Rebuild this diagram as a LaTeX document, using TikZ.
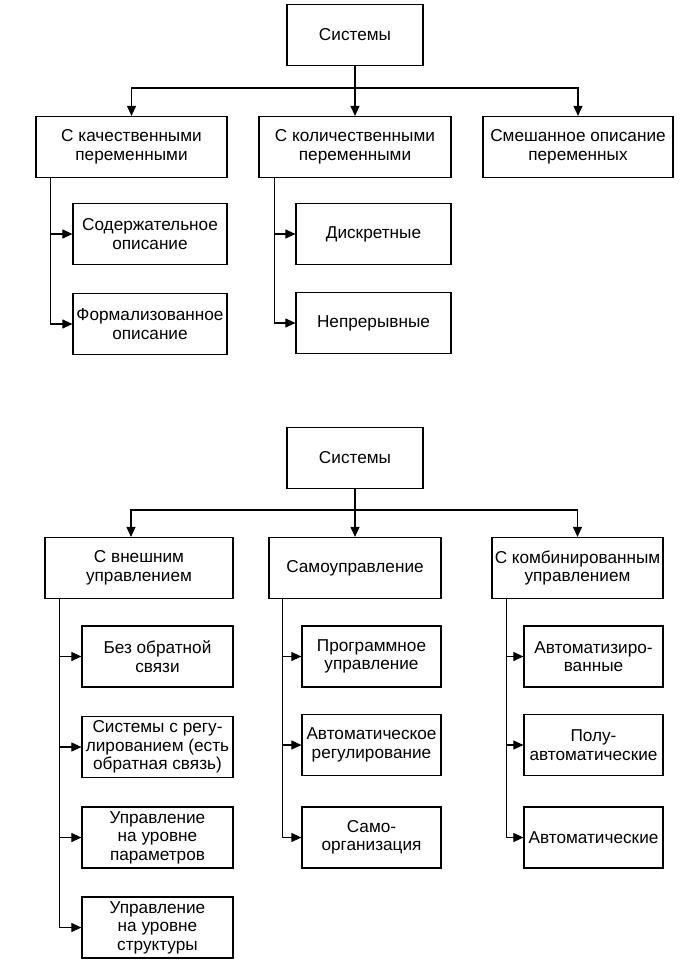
\documentclass[tikz,border=0pt]{standalone}
\usepackage{fontspec}
\setmainfont{Liberation Sans}
\usepackage{tikz}
\usetikzlibrary{arrows.meta}

\begin{document}
\begin{tikzpicture}[x=1pt,y=-1pt,
    box/.style={draw, line width=1.2pt, align=center, inner sep=1pt,
        font=\fontsize{17.2}{18.5}\selectfont, minimum height=61pt},
    arr/.style={line width=1.1pt, -{Triangle[length=10pt,width=9pt]}}]
            \useasboundingbox (0,0) rectangle (691,965);

            \node[box, minimum width=136pt] (sys1) at (355,35) {Системы};
            \node[box, minimum width=191pt] (qual) at (131.5,147) {С качественными\\переменными};
            \node[box, minimum width=192pt] (quant) at (355,147) {С количественными\\переменными};
            \node[box, minimum width=190pt] (mixed) at (578,147) {Смешанное описание\\переменных};
            \node[box, minimum width=154pt] (meaning) at (150,234) {Содержательное\\описание};
            \node[box, minimum width=154pt] (formal) at (150,324) {Формализованное\\описание};
            \node[box, minimum width=155pt] (discr) at (373.5,234) {Дискретные};
            \node[box, minimum width=155pt] (contin) at (373.5,323) {Непрерывные};
            \coordinate (bus1) at (0,88);

            \draw[arr] (sys1.south) -- (sys1.south |- bus1) -| (qual.north);
            \draw[arr] (sys1.south) -- (quant.north);
            \draw[arr] (sys1.south) -- (sys1.south |- bus1) -| (mixed.north);
            \draw[arr] ([xshift=15pt]qual.south west) |- (meaning.west);
            \draw[arr] ([xshift=15pt]qual.south west) |- (formal.west);
            \draw[arr] ([xshift=16pt]quant.south west) |- (discr.west);
            \draw[arr] ([xshift=16pt]quant.south west) |- (contin.west);

            \node[box, minimum width=136pt] (sys2) at (355,458) {Системы};
            \node[box, minimum width=188pt] (ext) at (139,568) {С внешним\\управлением};
            \node[box, minimum width=172pt] (self) at (355,568) {Самоуправление};
            \node[box, minimum width=171pt] (comb) at (577.5,568) {С комбинированным\\управлением};
            \node[box, minimum width=151pt] (nofb) at (157.5,656.5) {Без обратной\\связи};
            \node[box, minimum width=151pt] (reg) at (157.5,747) {Системы с регу-\\лированием (есть\\обратная связь)};
            \node[box, minimum width=151pt] (param) at (157.5,837.5) {Управление\\на уровне\\параметров};
            \node[box, minimum width=151pt] (struct) at (157.5,927.5) {Управление\\на уровне\\структуры};
            \node[box, minimum width=139pt] (prog) at (371.5,656.5) {Программное\\управление};
            \node[box, minimum width=139pt] (autoreg) at (371.5,745) {Автоматическое\\регулирование};
            \node[box, minimum width=139pt] (selforg) at (371.5,837.5) {Само-\\организация};
            \node[box, minimum width=139pt] (automd) at (593.5,656.5) {Автоматизиро-\\ванные};
            \node[box, minimum width=139pt] (semi) at (593.5,745) {Полу-\\автоматические};
            \node[box, minimum width=139pt] (auto) at (593.5,837.5) {Автоматические};
            \coordinate (bus2) at (0,510);

            \draw[arr] (sys2.south) -- (sys2.south |- bus2) -| ([xshift=-8pt]ext.north);
            \draw[arr] (sys2.south) -- (self.north);
            \draw[arr] (sys2.south) -- (sys2.south |- bus2) -| (comb.north);
            \draw[arr] ([xshift=15pt]ext.south west) |- (nofb.west);
            \draw[arr] ([xshift=15pt]ext.south west) |- (reg.west);
            \draw[arr] ([xshift=15pt]ext.south west) |- (param.west);
            \draw[arr] ([xshift=15pt]ext.south west) |- (struct.west);
            \draw[arr] ([xshift=14pt]self.south west) |- (prog.west);
            \draw[arr] ([xshift=14pt]self.south west) |- (autoreg.west);
            \draw[arr] ([xshift=14pt]self.south west) |- (selforg.west);
            \draw[arr] ([xshift=15pt]comb.south west) |- (automd.west);
            \draw[arr] ([xshift=15pt]comb.south west) |- (semi.west);
            \draw[arr] ([xshift=15pt]comb.south west) |- (auto.west);
        \end{tikzpicture}
\end{document}
